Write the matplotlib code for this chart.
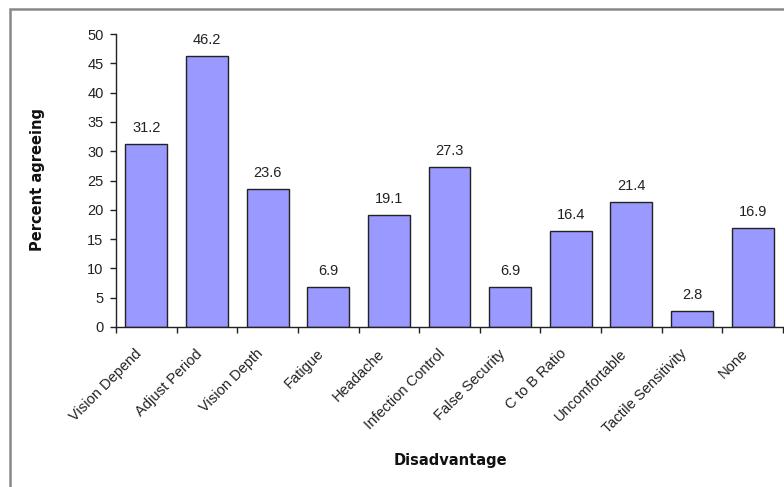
import matplotlib
matplotlib.use("Agg")
import matplotlib.pyplot as plt
import matplotlib.transforms as mtransforms
from matplotlib.patches import Rectangle
import numpy as np

categories = ["Vision Depend", "Adjust Period", "Vision Depth", "Fatigue", "Headache",
              "Infection Control", "False Security", "C to B Ratio", "Uncomfortable",
              "Tactile Sensitivity", "None"]
values = [31.2, 46.2, 23.6, 6.9, 19.1, 27.3, 6.9, 16.4, 21.4, 2.8, 16.9]
yticks = [0, 5, 10, 15, 20, 25, 30, 35, 40, 45, 50]

plt.rcParams['font.family'] = ['Liberation Sans', 'DejaVu Sans']

fig = plt.figure(figsize=(7.84, 4.87), dpi=100)
ax = fig.add_axes([116/784, 1-327/487, (783-116)/784, (327-34)/487])

x = np.arange(len(categories))
bars = ax.bar(x, values, width=0.69, color='#9999FF', edgecolor='#222222', linewidth=1.0, zorder=2)
for xi, v in zip(x, values):
    ax.annotate(f"{v}", (xi, v), xytext=(0, 6.5), textcoords='offset points',
                ha='center', va='bottom', fontsize=10.5, color='#222222')

ax.set_xlim(-0.5, len(categories) - 0.5)
ax.set_ylim(0, 50)
ax.set_yticks(yticks)
ax.set_yticklabels([str(t) for t in yticks], fontsize=10.5, color='#222222')

ax.set_xticks(np.arange(len(categories) + 1) - 0.5)
ax.set_xticklabels([])
ax.set_xticks(x, minor=True)
ax.set_xticklabels(categories, minor=True, rotation=45, ha='right', rotation_mode='anchor',
                   fontsize=10.5, color='#222222')
ax.tick_params(axis='x', which='minor', length=0, pad=12)
ax.tick_params(axis='x', which='major', length=4, width=1, color='#222222', direction='out')
ax.tick_params(axis='y', length=4, width=1, color='#222222', direction='out', pad=5)

offset = mtransforms.ScaledTranslation(-12/100, -3/100, fig.dpi_scale_trans)
for lbl in ax.get_xticklabels(minor=True):
    lbl.set_transform(lbl.get_transform() + offset)

for s in ['top', 'right']:
    ax.spines[s].set_visible(False)
for s in ['left', 'bottom']:
    ax.spines[s].set_color('#222222')
    ax.spines[s].set_linewidth(1.0)

fig.text(38/784, 1-180/487, "Percent agreeing", rotation=90, ha='center', va='center',
         fontsize=10.5, fontweight='bold', color='#111111', family='DejaVu Sans')
fig.text(450/784, 1-460/487, "Disadvantage", ha='center', va='center',
         fontsize=10.5, fontweight='bold', color='#111111', family='DejaVu Sans')

frame = Rectangle((10/784, -0.01), 1.0, 1-9/487 + 0.01, transform=fig.transFigure,
                  fill=False, edgecolor='#888888', linewidth=1.8)
fig.patches.append(frame)

fig.savefig("out.png", dpi=100)
